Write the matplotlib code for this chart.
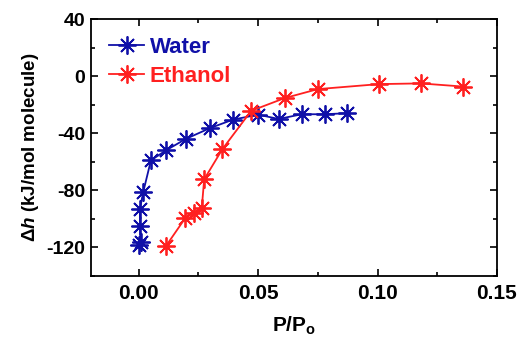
import matplotlib
matplotlib.use("Agg")
import matplotlib.pyplot as plt
from matplotlib.ticker import MultipleLocator

water_x = [0.0003, 0.0008, 0.0005, 0.0005, 0.0019, 0.0051, 0.0114, 0.0197, 0.0297, 0.0394, 0.0500, 0.0586, 0.0683, 0.0778, 0.0871]
water_y = [-118, -116, -105, -93, -81, -59, -52, -44, -36.5, -30.5, -27, -30, -26.7, -26.7, -26]
ethanol_x = [0.0114, 0.0194, 0.0232, 0.0264, 0.0274, 0.0350, 0.0471, 0.0611, 0.0750, 0.1006, 0.1180, 0.1357]
ethanol_y = [-119, -99.6, -95.7, -92.2, -72.3, -51.2, -24.3, -15.4, -9.1, -5.6, -5.1, -7.3]

plt.rcParams['font.family'] = ['Liberation Sans', 'DejaVu Sans']
plt.rcParams['font.weight'] = 'bold'
plt.rcParams['mathtext.fontset'] = 'custom'
plt.rcParams['mathtext.rm'] = 'Liberation Sans:bold'
plt.rcParams['mathtext.it'] = 'Liberation Sans:italic:bold'

fig = plt.figure(figsize=(5.22, 3.5), dpi=100)
ax = fig.add_axes([0.1743, 0.2114, 0.952 - 0.1743, 0.9457 - 0.2114])

blue = '#1010a8'
red = '#ff2020'
mk = (8, 2, 0)
ax.plot(water_x, water_y, color=blue, lw=1.3, marker=mk, ms=13, mew=1.3, label='Water')
ax.plot(water_x, water_y, color=blue, lw=0, marker='o', ms=3.5)
ax.plot(ethanol_x, ethanol_y, color=red, lw=1.3, marker=mk, ms=13, mew=1.3, label='Ethanol')
ax.plot(ethanol_x, ethanol_y, color=red, lw=0, marker='o', ms=3.5)

ax.set_xlim(-0.02, 0.15)
ax.set_ylim(-140, 40)
ax.xaxis.set_major_locator(MultipleLocator(0.05))
ax.xaxis.set_minor_locator(MultipleLocator(0.025))
ax.yaxis.set_major_locator(MultipleLocator(40))
ax.yaxis.set_minor_locator(MultipleLocator(20))
ax.set_xticks([0.0, 0.05, 0.10, 0.15])
ax.set_xticklabels(['0.00', '0.05', '0.10', '0.15'])
ax.set_yticks([40, 0, -40, -80, -120])
ax.set_yticklabels(['40', '0', '-40', '-80', '-120'])
ax.tick_params(which='both', direction='in', top=True, right=True, width=1.2)
ax.tick_params(which='major', length=5, labelsize=15, pad=6)
ax.tick_params(which='minor', length=3)
ax.tick_params(axis='y', labelsize=14, pad=4)
for s in ax.spines.values():
    s.set_linewidth(1.3)

ax.set_xlabel(r'P/P$_\mathregular{o}$', fontsize=15, fontweight='bold', labelpad=8)
ax.set_ylabel(r'$\Delta h$ (kJ/mol molecule)', fontsize=13.5, fontweight='bold', labelpad=4)

leg = ax.legend(loc='upper left', frameon=False, fontsize=16, handlelength=1.6,
                handletextpad=0.25, borderaxespad=0.4, labelspacing=0.35)
for t, c in zip(leg.get_texts(), [blue, red]):
    t.set_color(c)

fig.savefig('out.png', dpi=100)
